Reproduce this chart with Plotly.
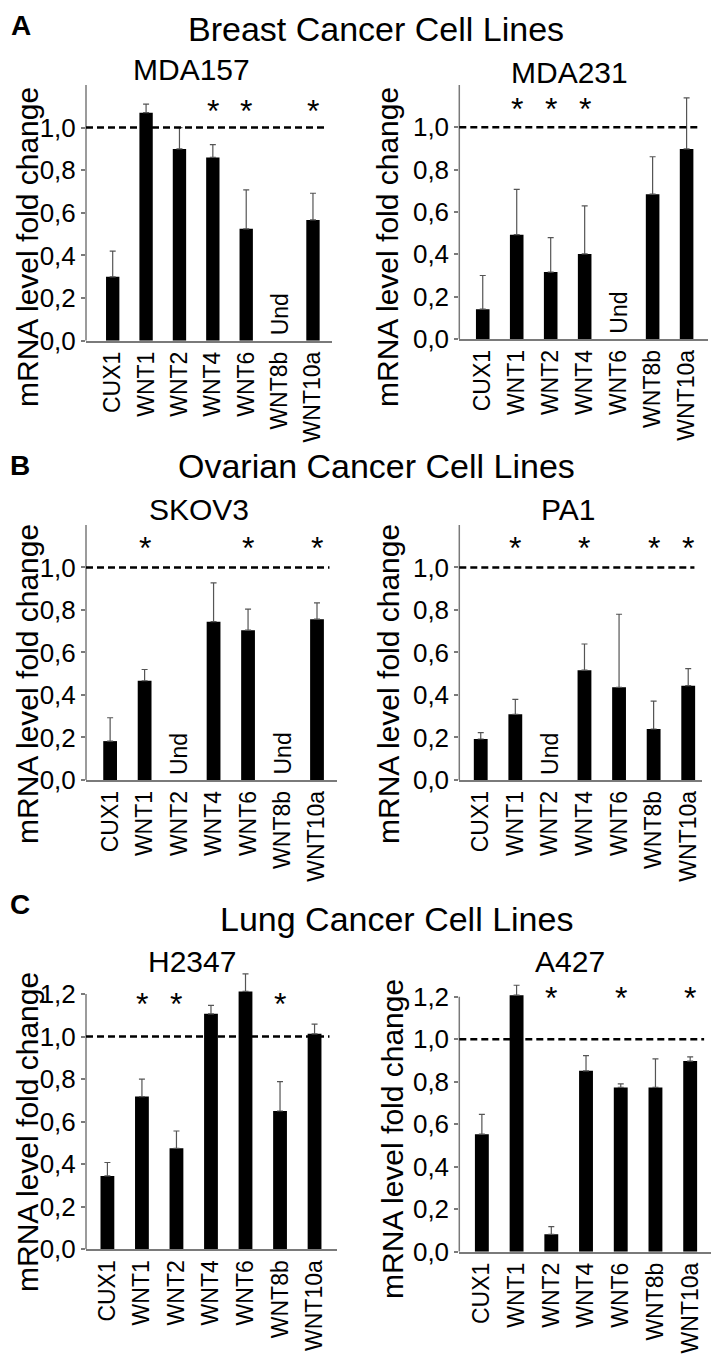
import plotly.graph_objects as go

W, H = 719, 1362
OFF = 8  # page body margin of the browser
FONT = "Liberation Sans, Arial, sans-serif"

categories = ["CUX1", "WNT1", "WNT2", "WNT4", "WNT6", "WNT8b", "WNT10a"]

mda157 = [0.30, 1.07, 0.90, 0.86, 0.525, None, 0.567]
mda157_err = [0.12, 0.04, 0.10, 0.06, 0.183, None, 0.125]
mda157_sig = ["WNT4", "WNT6", "WNT10a"]

mda231 = [0.141, 0.493, 0.316, 0.402, None, 0.684, 0.898]
mda231_err = [0.159, 0.214, 0.163, 0.227, None, 0.177, 0.241]
mda231_sig = ["WNT1", "WNT2", "WNT4"]

skov3 = [0.183, 0.467, None, 0.745, 0.705, None, 0.757]
skov3_err = [0.11, 0.053, None, 0.183, 0.099, None, 0.077]
skov3_sig = ["WNT1", "WNT6", "WNT10a"]

pa1 = [0.193, 0.309, None, 0.517, 0.436, 0.24, 0.444]
pa1_err = [0.03, 0.07, None, 0.123, 0.344, 0.131, 0.08]
pa1_sig = ["WNT1", "WNT4", "WNT8b", "WNT10a"]

h2347 = [0.345, 0.718, 0.475, 1.107, 1.212, 0.65, 1.013]
h2347_err = [0.063, 0.082, 0.081, 0.04, 0.083, 0.138, 0.045]
h2347_sig = ["WNT1", "WNT2", "WNT8b"]

a427 = [0.553, 1.207, 0.082, 0.851, 0.773, 0.773, 0.897]
a427_err = [0.093, 0.047, 0.036, 0.072, 0.017, 0.134, 0.02]
a427_sig = ["WNT2", "WNT6", "WNT10a"]

group_titles = ["Breast Cancer Cell Lines", "Ovarian Cancer Cell Lines", "Lung Cancer Cell Lines"]
group_letters = ["A", "B", "C"]
y_title = "mRNA level fold change"
und_label = "Und"

AXIS_TOP = 1.2
YMAX = 1.35
AX_COL = "#7a7a7a"

# (name, values, errors, sig, px box [x0, x1, y at AXIS_TOP, y at 0], x-range, star y, yticks, title pos, ytitle pos)
panels = [
    ("MDA157", mda157, mda157_err, mda157_sig, (86, 332, 85, 340.7), (-0.8, 6.57), 1.12,
     [0, 0.2, 0.4, 0.6, 0.8, 1.0], (191, 69), (27, 247)),
    ("MDA231", mda231, mda231_err, mda231_sig, (459.3, 708, 85, 339), (-0.69, 6.63), 1.13,
     [0, 0.2, 0.4, 0.6, 0.8, 1.0], (569, 72), (387, 247)),
    ("SKOV3", skov3, skov3_err, skov3_sig, (86, 337, 525, 780), (-0.7, 6.58), 1.136,
     [0, 0.2, 0.4, 0.6, 0.8, 1.0], (199, 510), (27, 684)),
    ("PA1", pa1, pa1_err, pa1_sig, (459.3, 701.7, 525, 780), (-0.62, 6.39), 1.136,
     [0, 0.2, 0.4, 0.6, 0.8, 1.0], (568, 510), (388, 684)),
    ("H2347", h2347, h2347_err, h2347_sig, (86, 337, 994, 1249.3), (-0.62, 6.65), 1.196,
     [0, 0.2, 0.4, 0.6, 0.8, 1.0, 1.2], (192, 961), (27, 1132)),
    ("A427", a427, a427_err, a427_sig, (459.3, 711.7, 996.7, 1251.7), (-0.65, 6.62), 1.238,
     [0, 0.2, 0.4, 0.6, 0.8, 1.0, 1.2], (570, 961), (392, 1139)),
]

fig = go.Figure()
annotations = []
shapes = []


def px_x(x):
    return (x - OFF) / W


def px_y(y):
    return 1 - (y - OFF) / H


for i, (name, vals, errs, sig, box, xr, star_y, yt, tpos, ytpos) in enumerate(panels):
    k = "" if i == 0 else str(i + 1)
    xa, ya = "x" + k, "y" + k
    x0, x1, ytop, ybot = box
    ppu = (ybot - ytop) / AXIS_TOP
    ytop_ext = ybot - ppu * YMAX
    fig.add_trace(go.Bar(
        x=categories, y=vals, xaxis=xa, yaxis=ya,
        marker=dict(color="black", line=dict(width=0)), width=0.4,
        error_y=dict(type="data", symmetric=False, array=errs,
                     arrayminus=[0] * len(errs), color="#555555", thickness=1.2, width=3),
        showlegend=False, hoverinfo="skip",
    ))
    fig.update_layout({
        "xaxis" + k: dict(domain=[px_x(x0), px_x(x1)], anchor=ya, type="category",
                          range=list(xr), showline=True, linecolor=AX_COL, linewidth=1.5,
                          ticks="", tickangle=-90, showgrid=False, zeroline=False, automargin=False,
                          tickfont=dict(family=FONT, size=23, color="black"),
                          categoryorder="array", categoryarray=categories),
        "yaxis" + k: dict(domain=[px_y(ybot), px_y(ytop_ext)], anchor=xa, range=[0, YMAX],
                          showline=False, automargin=False,
                          ticks="outside", ticklen=4, tickcolor=AX_COL, tickwidth=1.5,
                          tickvals=yt, tickformat=".1f", showgrid=False, zeroline=False,
                          tickfont=dict(family=FONT, size=26, color="black")),
    })
    # y axis line up to AXIS_TOP
    shapes.append(dict(type="line", xref=xa + " domain", yref=ya, x0=0, x1=0, y0=0, y1=AXIS_TOP,
                       line=dict(color=AX_COL, width=1.5)))
    # reference dashed line at 1.0
    shapes.append(dict(type="line", xref=xa + " domain", yref=ya, x0=0, x1=0.97, y0=1.0, y1=1.0,
                       line=dict(color="black", width=2.5, dash="7px,4px")))
    # significance stars
    for c in sig:
        annotations.append(dict(x=c, y=star_y, xref=xa, yref=ya, text="*", showarrow=False,
                                yanchor="middle", yshift=-9,
                                font=dict(family=FONT, size=32, color="black")))
    # undetermined labels
    for c, v in zip(categories, vals):
        if v is None:
            annotations.append(dict(x=c, y=0, xref=xa, yref=ya, text=und_label, showarrow=False,
                                    textangle=-90, yanchor="bottom", yshift=3,
                                    font=dict(family=FONT, size=23, color="black")))
    # panel title
    annotations.append(dict(x=px_x(tpos[0]), y=px_y(tpos[1]), xref="paper", yref="paper",
                            text=name, showarrow=False, xanchor="center", yanchor="middle",
                            font=dict(family=FONT, size=30, color="black")))
    # y title
    annotations.append(dict(x=px_x(ytpos[0]), y=px_y(ytpos[1]), xref="paper", yref="paper",
                            text=y_title, showarrow=False, textangle=-90,
                            xanchor="center", yanchor="middle",
                            font=dict(family=FONT, size=30, color="black")))

# group titles and panel letters: (x, y, yanchor)
group_pos = [(376, 8.5, "top"), (376, 466, "middle"), (396, 919, "middle")]
letter_pos = [(21, 8.5, "top"), (20, 465, "middle"), (20, 904, "middle")]
for t, l, gp, lp in zip(group_titles, group_letters, group_pos, letter_pos):
    annotations.append(dict(x=px_x(gp[0]), y=px_y(gp[1]), xref="paper", yref="paper",
                            text=t, showarrow=False, xanchor="center", yanchor=gp[2],
                            font=dict(family=FONT, size=34, color="black")))
    annotations.append(dict(x=px_x(lp[0]), y=px_y(lp[1]), xref="paper", yref="paper",
                            text="<b>" + l + "</b>", showarrow=False, xanchor="center", yanchor=lp[2],
                            font=dict(family=FONT, size=28, color="black")))

fig.update_layout(template="none", width=W, height=H,
                  margin=dict(l=0, r=0, t=0, b=0, pad=0, autoexpand=False),
                  paper_bgcolor="white", plot_bgcolor="white", separators=",.",
                  annotations=annotations, shapes=shapes, bargap=0.6)

fig.write_html("out.html")
